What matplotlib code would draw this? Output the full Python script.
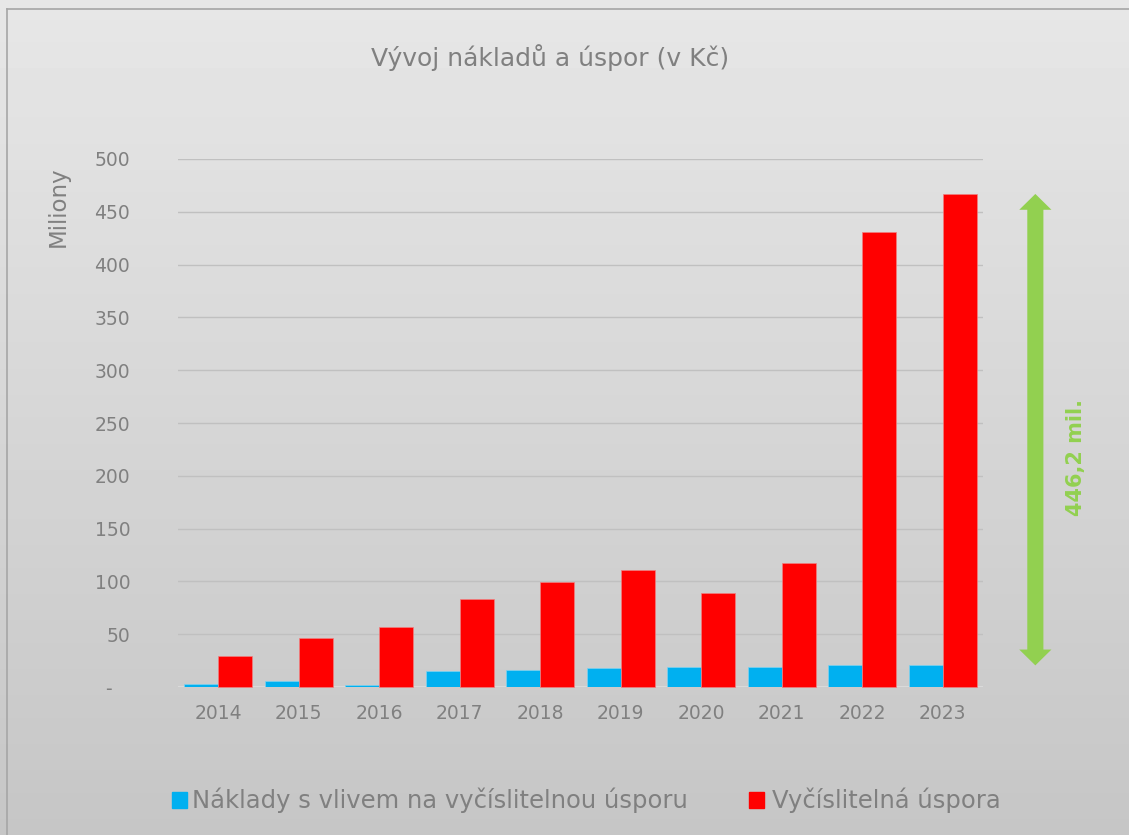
import matplotlib.pyplot as plt
import numpy as np
from matplotlib.patches import Rectangle

plt.rcParams["font.family"] = ["DejaVu Sans"]

years = ["2014", "2015", "2016", "2017", "2018", "2019", "2020", "2021", "2022", "2023"]
costs = [2.5, 6.0, 2.0, 15.5, 16.5, 18.0, 19.0, 19.3, 21.0, 20.5]
savings = [29.4, 46.4, 56.8, 83.3, 99.4, 110.8, 89.0, 117.4, 430.9, 466.9]
y_ticks = [0, 50, 100, 150, 200, 250, 300, 350, 400, 450, 500]
y_tick_labels = ["-   ", "50", "100", "150", "200", "250", "300", "350", "400", "450", "500"]

TITLE = "Vývoj nákladů a úspor (v Kč)"
Y_LABEL = "Miliony"
LEGEND = ["Náklady s vlivem na vyčíslitelnou úsporu", "Vyčíslitelná úspora"]
DIFF_LABEL = "446,2 mil."

BLUE = "#00b0f0"
RED = "#ff0000"
GREEN = "#92d050"
TEXT = "#808080"


def main():
    fig = plt.figure(figsize=(11.29, 8.35), dpi=100)

    # gradient background
    bg = fig.add_axes([0, 0, 1, 1], zorder=-10)
    grad = np.linspace(0.905, 0.775, 256).reshape(-1, 1)
    bg.imshow(grad, aspect="auto", cmap="gray", vmin=0, vmax=1, extent=(0, 1, 0, 1))
    bg.set_xlim(0, 1)
    bg.set_ylim(0, 1)
    bg.axis("off")
    bg.plot([0.006, 1.0], [0.989, 0.989], color="#a6a6a6", lw=1.2)
    bg.plot([0.006, 0.006], [0.0, 0.989], color="#a6a6a6", lw=1.2)

    ax = fig.add_axes([0.1577, 0.1772, 0.713, 0.6324])
    ax.set_facecolor("none")
    x = np.arange(len(years))
    w = 0.42
    ax.bar(x - w / 2, costs, w, color=BLUE, edgecolor="#7fd3f0", lw=0.5, zorder=3)
    ax.bar(x + w / 2, savings, w, color=RED, edgecolor="#f08080", lw=0.5, zorder=3,
           clip_on=False)

    ax.set_xlim(-0.5, len(years) - 0.5)
    ax.set_ylim(0, 500)
    ax.set_yticks(y_ticks)
    ax.set_yticklabels(y_tick_labels)
    ax.set_xticks(x)
    ax.set_xticklabels(years)
    ax.tick_params(axis="both", length=0, labelsize=13.5, labelcolor=TEXT)
    ax.tick_params(axis="y", pad=34.5)
    ax.tick_params(axis="x", pad=12)
    for s in ax.spines.values():
        s.set_visible(False)
    ax.grid(axis="y", color="#c0c0c0", lw=1, zorder=0)
    ax.axhline(0, color="#dadada", lw=1.5, zorder=2)

    fig.text(0.487, 0.931, TITLE, ha="center", va="center", fontsize=18, color=TEXT)
    fig.text(0.052, 0.752, Y_LABEL, ha="center", va="center", rotation=90,
             fontsize=16.5, color=TEXT)

    # difference arrow between the 2023 bars
    top, bottom = savings[-1], costs[-1]
    head = 15
    arr_x = 10.15
    style = dict(width=0.2, head_width=0.4, head_length=head, length_includes_head=True,
                 color=GREEN, lw=0, clip_on=False, zorder=4)
    ax.arrow(arr_x, bottom + head - 1, 0, top - bottom - head + 1, **style)
    ax.arrow(arr_x, bottom + head, 0, -head, **style)
    ax.text(10.65, bottom + 0.44 * (top - bottom), DIFF_LABEL, rotation=90,
            ha="center", va="center", fontsize=15, fontweight="bold", color=GREEN,
            clip_on=False)

    # legend
    fig.patches.append(Rectangle((0.1525, 0.032), 0.0135, 0.02,
                                 transform=fig.transFigure, color=BLUE))
    fig.text(0.170, 0.042, LEGEND[0], ha="left", va="center", fontsize=17.5, color=TEXT)
    fig.patches.append(Rectangle((0.6635, 0.032), 0.0135, 0.02,
                                 transform=fig.transFigure, color=RED))
    fig.text(0.684, 0.042, LEGEND[1], ha="left", va="center", fontsize=17.5, color=TEXT)

    fig.savefig("out.png", dpi=100)


if __name__ == "__main__":
    main()
